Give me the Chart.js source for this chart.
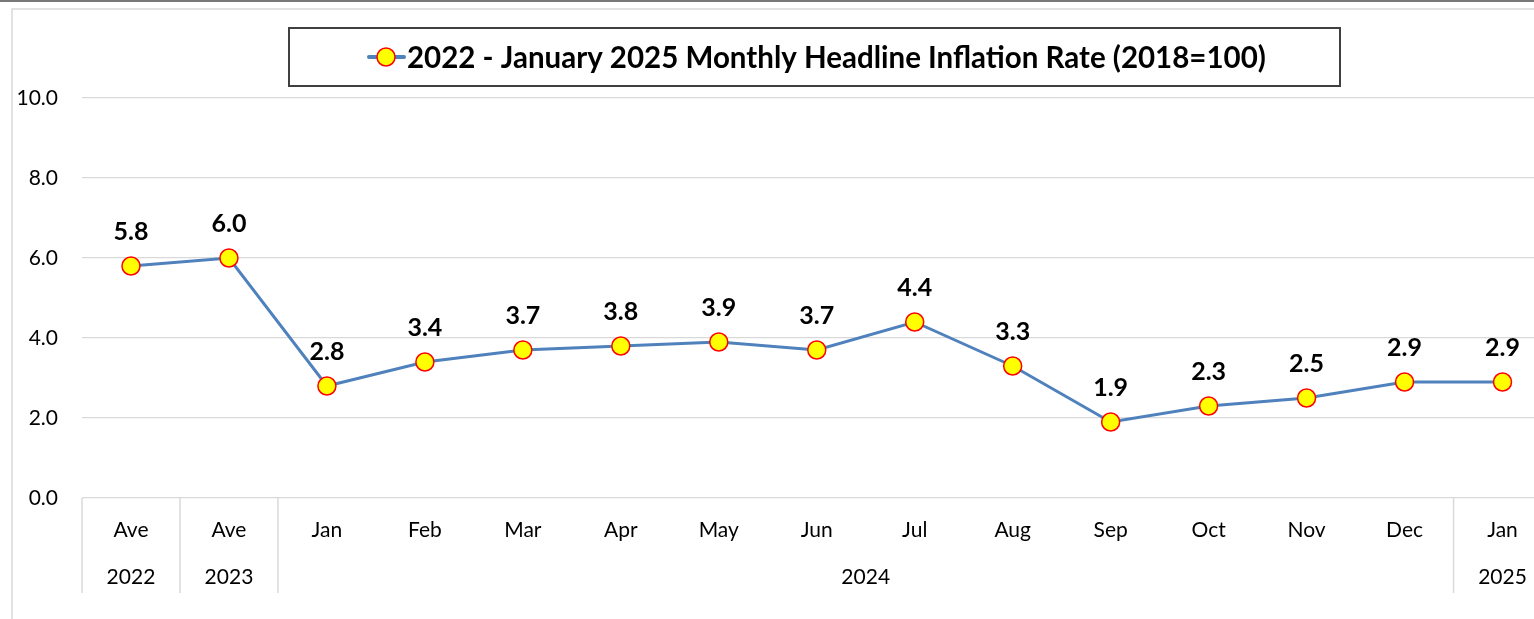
<!doctype html>
<html>

<head>
	<title>Monthly Headline Inflation Rate</title>
	<script src="https://cdn.jsdelivr.net/npm/chart.js@4/dist/chart.umd.min.js"></script>
	<style>
		html, body {
			margin: 0;
			padding: 0;
			background: #ffffff;
			overflow: hidden;
		}
		.wrap {
			width: 1534px;
			height: 619px;
			overflow: hidden;
			position: relative;
		}
	</style>
</head>

<body>
	<div class="wrap">
		<canvas id="chart" width="1562" height="619"></canvas>
	</div>
	<script>
		// categories (first row of x labels)
		var months = ['Ave', 'Ave', 'Jan', 'Feb', 'Mar', 'Apr', 'May', 'Jun', 'Jul', 'Aug', 'Sep', 'Oct', 'Nov', 'Dec', 'Jan'];
		// second row: year groups, by first and last category index
		var years = ['2022', '2023', '2024', '2025'];
		var yearStart = [0, 1, 2, 14];
		var yearEnd = [0, 1, 13, 14];
		// headline inflation, %
		var inflation = [5.8, 6.0, 2.8, 3.4, 3.7, 3.8, 3.9, 3.7, 4.4, 3.3, 1.9, 2.3, 2.5, 2.9, 2.9];
		var seriesName = '2022 - January 2025 Monthly Headline Inflation Rate (2018=100)';

		var FONT = 'Lato, "Open Sans", sans-serif';
		var LINE = '#4f81bd';
		var GRID = '#d9d9d9';

		var frame = {
			id: 'frame',
			beforeDraw: function(chart) {
				var ctx = chart.ctx;
				ctx.save();
				ctx.fillStyle = '#ffffff';
				ctx.fillRect(0, 0, chart.width, chart.height);
				ctx.strokeStyle = '#777777';
				ctx.lineWidth = 2;
				ctx.beginPath();
				ctx.moveTo(0, 1);
				ctx.lineTo(chart.width, 1);
				ctx.stroke();
				ctx.strokeStyle = GRID;
				ctx.lineWidth = 1.5;
				ctx.beginPath();
				ctx.moveTo(12, chart.height);
				ctx.lineTo(12, 9);
				ctx.lineTo(chart.width, 9);
				ctx.stroke();
				ctx.restore();
			}
		};

		var groupAxis = {
			id: 'groupAxis',
			afterDraw: function(chart) {
				var ctx = chart.ctx;
				var x = chart.scales.x;
				var base = chart.chartArea.bottom;
				var step = x.getPixelForValue(1) - x.getPixelForValue(0);
				ctx.save();
				ctx.strokeStyle = GRID;
				ctx.lineWidth = 1.5;
				ctx.beginPath();
				yearStart.forEach(function(s) {
					var px = x.getPixelForValue(s) - step / 2;
					ctx.moveTo(px, base);
					ctx.lineTo(px, base + 95);
				});
				ctx.stroke();
				ctx.fillStyle = '#000000';
				ctx.font = '21px ' + FONT;
				ctx.textAlign = 'center';
				ctx.textBaseline = 'middle';
				years.forEach(function(y, i) {
					var cx = (x.getPixelForValue(yearStart[i]) + x.getPixelForValue(yearEnd[i])) / 2;
					ctx.fillText(y, cx, base + 79);
				});
				ctx.restore();
			}
		};

		var valueLabels = {
			id: 'valueLabels',
			afterDatasetsDraw: function(chart) {
				var ctx = chart.ctx;
				var meta = chart.getDatasetMeta(0);
				ctx.save();
				ctx.fillStyle = '#000000';
				ctx.font = 'bold 25px ' + FONT;
				ctx.textAlign = 'center';
				ctx.textBaseline = 'middle';
				meta.data.forEach(function(pt, i) {
					ctx.fillText(inflation[i].toFixed(1), pt.x, pt.y - 34);
				});
				ctx.restore();
			}
		};

		var legendBox = {
			id: 'legendBox',
			afterDraw: function(chart) {
				var ctx = chart.ctx;
				ctx.save();
				ctx.strokeStyle = '#404040';
				ctx.lineWidth = 2;
				ctx.strokeRect(289, 28, 1051, 58);
				ctx.strokeStyle = LINE;
				ctx.lineWidth = 4;
				ctx.lineCap = 'round';
				ctx.beginPath();
				ctx.moveTo(369, 57);
				ctx.lineTo(404, 57);
				ctx.stroke();
				ctx.beginPath();
				ctx.arc(386, 57, 9, 0, Math.PI * 2);
				ctx.fillStyle = '#ffff00';
				ctx.fill();
				ctx.strokeStyle = '#ff0000';
				ctx.lineWidth = 1.5;
				ctx.stroke();
				var size = 26;
				ctx.font = 'bold ' + size + 'px ' + FONT;
				var w = ctx.measureText(seriesName).width;
				size = Math.min(31, size * 859 / w);
				ctx.font = 'bold ' + size + 'px ' + FONT;
				ctx.fillStyle = '#000000';
				ctx.textAlign = 'left';
				ctx.textBaseline = 'middle';
				ctx.fillText(seriesName, 407, 58);
				ctx.restore();
			}
		};

		new Chart(document.getElementById('chart'), {
			type: 'line',
			data: {
				labels: months,
				datasets: [{
					label: seriesName,
					data: inflation,
					borderColor: LINE,
					borderWidth: 3,
					backgroundColor: '#ffff00',
					pointBackgroundColor: '#ffff00',
					pointBorderColor: '#ff0000',
					pointBorderWidth: 1.5,
					pointRadius: 9,
					tension: 0,
					fill: false
				}]
			},
			options: {
				responsive: false,
				animation: false,
				layout: {
					padding: { top: 98, left: 0, right: 0, bottom: 0 }
				},
				plugins: {
					legend: { display: false },
					title: { display: false },
					tooltip: { enabled: false }
				},
				scales: {
					x: {
						offset: true,
						grid: { display: false },
						border: { display: false },
						ticks: {
							color: '#000000',
							font: { family: FONT, size: 21 },
							padding: 12,
							maxRotation: 0,
							autoSkip: false
						},
						afterFit: function(scale) { scale.height = 121; }
					},
					y: {
						min: 0,
						max: 10,
						grid: { color: GRID, lineWidth: 1.3, drawTicks: false },
						border: { display: false },
						ticks: {
							stepSize: 2,
							color: '#000000',
							font: { family: FONT, size: 21 },
							padding: 24,
							callback: function(v) { return v.toFixed(1); }
						},
						afterFit: function(scale) { scale.width = 82; }
					}
				}
			},
			plugins: [frame, groupAxis, valueLabels, legendBox]
		});
	</script>
</body>

</html>
